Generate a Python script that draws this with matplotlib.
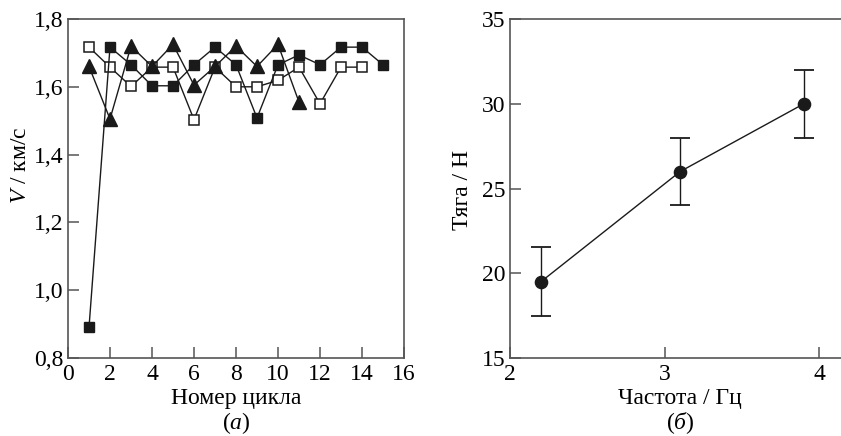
import matplotlib
matplotlib.use("Agg")
import matplotlib.pyplot as plt

plt.rcParams['font.family'] = ['Liberation Serif', 'DejaVu Serif']
plt.rcParams['mathtext.fontset'] = 'custom'
plt.rcParams['mathtext.rm'] = 'Liberation Serif'
plt.rcParams['mathtext.it'] = 'Liberation Serif:italic'

# ---- panel (a) data ----
cycles_filled = [1, 2, 3, 4, 5, 6, 7, 8, 9, 10, 11, 12, 13, 14, 15]
v_filled = [0.89, 1.717, 1.665, 1.603, 1.603, 1.665, 1.717, 1.665, 1.508,
            1.665, 1.694, 1.665, 1.717, 1.717, 1.665]
cycles_open = [1, 2, 3, 4, 5, 6, 7, 8, 9, 10, 11, 12, 13, 14]
v_open = [1.717, 1.658, 1.601, 1.658, 1.658, 1.503, 1.658, 1.600, 1.600,
          1.619, 1.658, 1.550, 1.658, 1.658]
cycles_tri = [1, 2, 3, 4, 5, 6, 7, 8, 9, 10, 11]
v_tri = [1.66, 1.505, 1.72, 1.66, 1.725, 1.605, 1.66, 1.72, 1.66, 1.725, 1.555]

a_xticks = [0, 2, 4, 6, 8, 10, 12, 14, 16]
a_yticks = [0.8, 1.0, 1.2, 1.4, 1.6, 1.8]
a_yticklabels = ['0,8', '1,0', '1,2', '1,4', '1,6', '1,8']

# ---- panel (b) data ----
freq = [2.2, 3.1, 3.9]
thrust = [19.5, 26.0, 30.0]
thrust_err = [2.05, 2.0, 2.0]
b_xticks = [2, 3, 4]
b_yticks = [15, 20, 25, 30, 35]

W, H = 841, 436
fig = plt.figure(figsize=(W / 100, H / 100), dpi=100)

def ax_rect(x0, x1, y0, y1):
    return [x0 / W, 1 - y1 / H, (x1 - x0) / W, (y1 - y0) / H]

def ftext(x, y, s, **kw):
    fig.text(x / W, 1 - y / H, s, ha='center', va='center', fontsize=fs, **kw)

spine_col = '#555555'
fs = 17

ax1 = fig.add_axes(ax_rect(68, 404, 19, 358))
lw = 1.0
ax1.plot(cycles_open, v_open, '-', color='#1a1a1a', lw=lw, marker='s', ms=7.5,
         mfc='white', mec='#1a1a1a', mew=1.1, zorder=3)
ax1.plot(cycles_filled, v_filled, '-', color='#1a1a1a', lw=lw, marker='s', ms=7.5,
         mfc='#1a1a1a', mec='#1a1a1a', zorder=4)
ax1.plot(cycles_tri, v_tri, '-', color='#1a1a1a', lw=lw, marker='^', ms=10,
         mfc='#1a1a1a', mec='#1a1a1a', zorder=5)
ax1.set_xlim(0, 16)
ax1.set_ylim(0.8, 1.8)
ax1.set_xticks(a_xticks)
ax1.set_yticks(a_yticks)
ax1.set_yticklabels(a_yticklabels)
ftext(20, 165, r'$V$ / км/с', rotation=90)
ftext(236, 398, 'Номер цикла')
ftext(236, 423, r'($\mathit{а}$)')

ax2 = fig.add_axes(ax_rect(510, 850.3, 19, 358))
ax2.errorbar(freq, thrust, yerr=thrust_err, fmt='-o', color='#1a1a1a', lw=1.0,
             ms=8.8, capsize=7, elinewidth=1.0, capthick=1.3, zorder=3)
ax2.set_xlim(2, 4.2)
ax2.set_ylim(15, 35)
ax2.set_xticks(b_xticks)
ax2.set_yticks(b_yticks)
ftext(463, 190, 'Тяга / Н', rotation=90)
ftext(680, 398, 'Частота / Гц')
ftext(680, 423, r'($\mathit{б}$)')

for ax in (ax1, ax2):
    for s in ax.spines.values():
        s.set_color(spine_col)
        s.set_linewidth(1.2)
    ax.tick_params(direction='in', length=8, width=1.1, color=spine_col,
                   labelsize=fs, top=False, right=False)
    ax.tick_params(axis='x', pad=4)
    ax.tick_params(axis='y', pad=3)

fig.savefig('out.png', dpi=100)
